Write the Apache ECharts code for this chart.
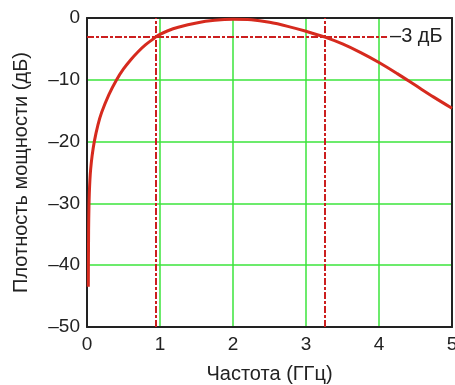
<!DOCTYPE html>
<html><head><meta charset="utf-8">
<script src="https://cdn.jsdelivr.net/npm/echarts@6/dist/echarts.min.js"></script>
<style>html,body{margin:0;padding:0;background:#fff}#c{width:455px;height:385px}</style>
</head><body><div id="c"></div>
<script>
var freqGHz = [0.018,0.022,0.027,0.032,0.04,0.05,0.07,0.1,0.15,0.2,0.3,0.4,0.5,0.6,0.7,0.8,0.9,0.945,1.0,1.1,1.25,1.5,1.75,2.0,2.25,2.5,2.75,3.0,3.26,3.5,3.75,4.0,4.25,4.5,4.75,5.0];
var powerDb = [-43.5,-34.5,-30.5,-28.3,-26.2,-24.5,-22.3,-20.0,-17.3,-15.3,-12.4,-10.1,-8.25,-6.75,-5.45,-4.35,-3.45,-3.05,-2.65,-2.1,-1.5,-0.8,-0.38,-0.22,-0.3,-0.7,-1.35,-2.15,-3.1,-4.2,-5.6,-7.2,-9.0,-10.9,-12.8,-14.6];
var cutoffDb = -3;
var cutoffFreqs = [0.945, 3.26];
var cutoffLineEnd = 4.11;
var cutoffLabel = '\u20133 дБ';
var xTitle = 'Частота (ГГц)';
var yTitle = 'Плотность мощности (дБ)';

var chart = echarts.init(document.getElementById('c'), null, {renderer:'canvas'});
var curve = freqGHz.map(function(f,i){return [f, powerDb[i]];});
var fontFam = 'Liberation Sans, Arial, sans-serif';
var dashRed = '#cc1f1f';
var green = '#3be53b';
var frame = {show:true, onZero:false, lineStyle:{color:'#222', width:2}};
chart.setOption({
  animation:false,
  grid:{left:87, top:18, width:365, height:309, outerBoundsMode:'none', containLabel:false},
  xAxis:[{type:'value', min:0, max:5, interval:1,
    name:xTitle, nameLocation:'middle', nameGap:37,
    nameTextStyle:{fontSize:20, color:'#222', fontFamily:fontFam},
    axisLine:frame, axisTick:{show:false},
    axisLabel:{fontSize:19, color:'#222', fontFamily:fontFam, margin:8},
    splitLine:{show:true, lineStyle:{color:green, width:1.5}}},
   {type:'value', position:'top', min:0, max:5, interval:1,
    axisLine:frame, axisTick:{show:false}, axisLabel:{show:false}, splitLine:{show:false}}],
  yAxis:[{type:'value', min:-50, max:0, interval:10,
    name:yTitle, nameLocation:'middle', nameGap:56,
    nameTextStyle:{fontSize:20, color:'#222', fontFamily:fontFam},
    axisLine:frame, axisTick:{show:false},
    axisLabel:{fontSize:19, color:'#222', fontFamily:fontFam, margin:7,
      formatter:function(v){return v<0 ? '\u2013'+Math.abs(v) : String(v);}},
    splitLine:{show:true, lineStyle:{color:green, width:1.5}}},
   {type:'value', position:'right', min:-50, max:0, interval:10,
    axisLine:frame, axisTick:{show:false}, axisLabel:{show:false}, splitLine:{show:false}}],
  series:[
    {type:'line', data:curve, showSymbol:false, smooth:0.35,
     lineStyle:{color:'#d62a1e', width:3}, z:5,
     markLine:{silent:true, symbol:'none', animation:false,
       lineStyle:{color:dashRed, width:2, type:[7,2,3,2]},
       label:{show:false},
       data:[
         [{coord:[0,cutoffDb]},{coord:[cutoffLineEnd,cutoffDb], label:{show:true, position:'end', formatter:cutoffLabel, fontSize:20, color:'#222', fontFamily:fontFam, distance:3}}],
         [{coord:[cutoffFreqs[0],-50]},{coord:[cutoffFreqs[0],0]}],
         [{coord:[cutoffFreqs[1],-50]},{coord:[cutoffFreqs[1],0]}]
       ]}}
  ]
});
</script></body></html>
